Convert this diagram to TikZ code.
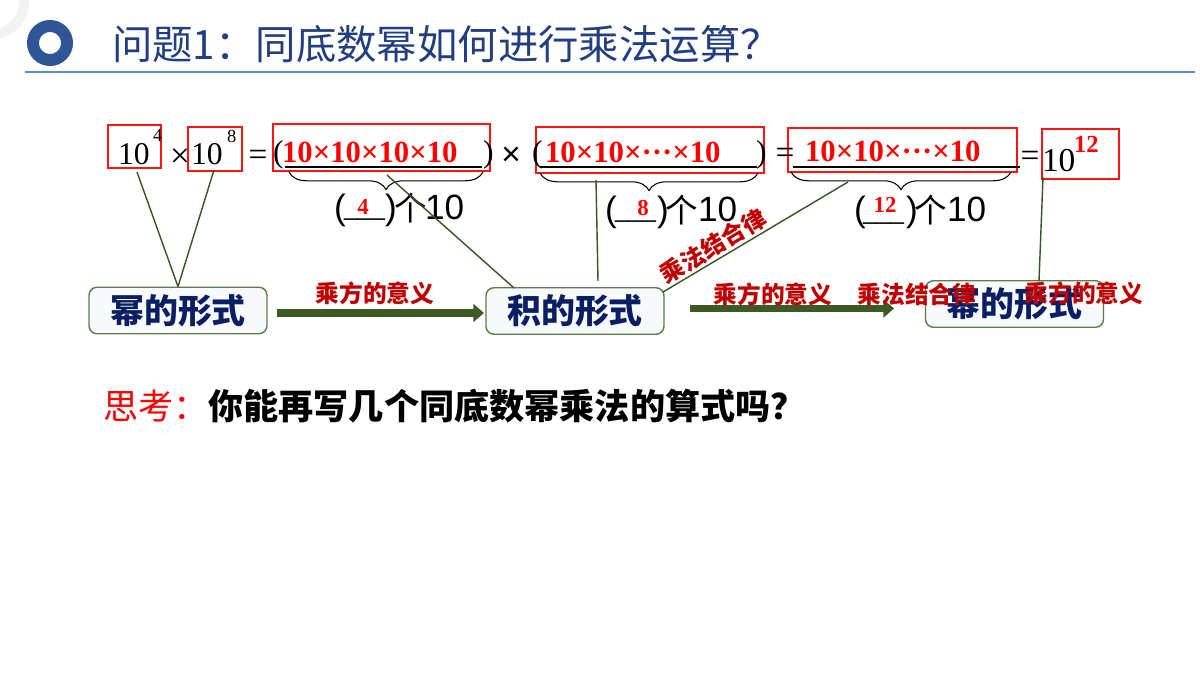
\documentclass[tikz,border=0pt]{standalone}
\usepackage{fontspec}
\setmainfont{Liberation Serif}
\setsansfont{Liberation Sans}
\newfontfamily\cjk{Noto Sans CJK SC}
\usetikzlibrary{arrows.meta,decorations.pathreplacing,fit,calc}
\definecolor{ringblue}{RGB}{47,85,151}
\definecolor{titleblue}{RGB}{33,62,130}
\definecolor{ruleblue}{RGB}{84,141,204}
\definecolor{navy}{RGB}{10,30,100}
\definecolor{boxborder}{RGB}{94,125,74}
\definecolor{boxfill}{RGB}{248,249,250}
\definecolor{arrowgreen}{RGB}{61,90,36}
\definecolor{linegreen}{RGB}{59,83,35}
\definecolor{labelred}{RGB}{192,0,0}
\definecolor{boxred}{RGB}{250,20,20}
\begin{document}
\begin{tikzpicture}[x=0.02cm,y=-0.02cm,
  txt/.style={inner sep=0pt,outer sep=0pt},
  redbox/.style={draw=boxred,line width=1.3pt,inner sep=0pt},
  stage/.style={draw=boxborder,fill=boxfill,rounded corners=0.16cm,line width=0.8pt,
    minimum width=3.56cm,minimum height=0.93cm,inner sep=0pt,
    font=\cjk\bfseries\fontsize{19.3}{20}\selectfont,text=navy},
  conn/.style={draw=linegreen,line width=0.8pt},
  bigarrow/.style={draw=arrowgreen,line width=4.5pt,-{Triangle[length=6pt,width=10pt]}},
  lab/.style={txt,font=\cjk\bfseries\fontsize{13.5}{14}\selectfont,text=labelred},
  blk/.style={txt,font=\fontsize{18}{19}\selectfont},
  rednum/.style={txt,font=\bfseries\fontsize{17.5}{18}\selectfont,text=red},
  smallred/.style={txt,font=\bfseries\fontsize{13}{14}\selectfont,text=red},
  cnt/.style={txt,font=\sffamily\fontsize{20}{21}\selectfont},
  ge/.style={txt,font=\cjk\fontsize{18.5}{19}\selectfont},
  blank/.style={txt,font=\sffamily\fontsize{14}{15}\selectfont},
  bracestyle/.style={decorate,decoration={brace,amplitude=10pt},line width=0.6pt}
]
\useasboundingbox (0,0) rectangle (1200,675);
\fill[white] (0,0) rectangle (1200,675);

% decorations of the heading
\draw[gray!10,line width=0.2cm] (-8,2) circle (32);
\draw[ringblue,line width=0.24cm] (50,43) circle (17);
\node[txt,anchor=west,font=\cjk\fontsize{23}{25}\selectfont,text=titleblue] (title) at (112,44) {问题1：同底数幂如何进行乘法运算？};
\coordinate (rulel) at (25,72);
\coordinate (ruler) at (1195,72);
\draw[ruleblue,line width=1pt] (rulel) -- (ruler);

% red boxes
\node[redbox,fit={(108,125) (161,168)}] (b1) {};
\node[redbox,fit={(188,127) (242,171)}] (b2) {};
\node[redbox,fit={(273,124) (490,171)}] (b3) {};
\node[redbox,fit={(536,127) (764,173)}] (b4) {};
\node[redbox,fit={(788,128) (1017,172)}] (b5) {};
\node[redbox,fit={(1042,129) (1119,179)}] (b6) {};

% formula
\node[blk,anchor=base west] (t1) at (118,165) {10};
\node[txt,anchor=base west,font=\fontsize{10.5}{11}\selectfont] (s1) at (153,142) {4};
\node[txt,anchor=center,font=\fontsize{20}{21}\selectfont] (m1) at (180,158) {×};
\node[blk,anchor=base west] (t2) at (191,165) {10};
\node[txt,anchor=base west,font=\fontsize{10.5}{11}\selectfont] (s2) at (227,143) {8};
\node[txt,anchor=center,font=\fontsize{19}{20}\selectfont] (e1) at (258,158) {=};
\node[blk,anchor=base west] (p1) at (273,163) {(};
\node[rednum,anchor=base west] (r1) at (282,163) {10×10×10×10};
\node[blk,anchor=base west] (q1) at (483,163) {)};
\node[txt,anchor=center,font=\sffamily\fontsize{19}{20}\selectfont] (m2) at (511,156) {×};
\node[blk,anchor=base west] (p2) at (532,163) {(};
\node[rednum,anchor=base west] (r2) at (545,163) {10×10×···×10};
\node[blk,anchor=base west] (q2) at (756,163) {)};
\node[txt,anchor=center,font=\fontsize{19}{20}\selectfont] (e2) at (785,156) {=};
\node[rednum,anchor=base west] (r3) at (805,162) {10×10×···×10};
\node[txt,anchor=center,font=\fontsize{19}{20}\selectfont] (e3) at (1030,159) {=};
\node[txt,anchor=base west,font=\fontsize{19}{20}\selectfont] (t3) at (1042,172) {10};
\node[txt,anchor=base west,font=\bfseries\fontsize{14}{15}\selectfont,text=red] (s3) at (1074,153) {12};

% underlines
\coordinate (u1a) at (285,167); \coordinate (u1b) at (482,167);
\coordinate (u2a) at (540,167); \coordinate (u2b) at (757,167);
\coordinate (u3a) at (793,167); \coordinate (u3b) at (1020,167);
\draw[line width=0.6pt] (u1a) -- (u1b);
\draw[line width=0.6pt] (u2a) -- (u2b);
\draw[line width=0.6pt] (u3a) -- (u3b);

% braces
\coordinate (br1a) at (483,172); \coordinate (br1b) at (289,172);
\coordinate (br2a) at (758,173); \coordinate (br2b) at (540,173);
\coordinate (br3a) at (1011,172); \coordinate (br3b) at (791,172);
\draw[bracestyle] (br1a) -- (br1b);
\draw[bracestyle] (br2a) -- (br2b);
\draw[bracestyle] (br3a) -- (br3b);

% counts
\node[cnt,anchor=base west] (c1p) at (334,220) {(};
\node[blank,anchor=base west] (c1u) at (344,216) {\_\_\_};
\node[smallred,anchor=center] (c1n) at (363,207) {4};
\node[cnt,anchor=base west] (c1q) at (385,220) {)};
\node[ge,anchor=base west] (c1g) at (394,221) {个};
\node[cnt,anchor=base west] (c1t) at (425,220) {10};

\node[cnt,anchor=base west] (c2p) at (605,222) {(};
\node[blank,anchor=base west] (c2u) at (615,218) {\_\_\_};
\node[smallred,anchor=center] (c2n) at (643,208) {8};
\node[cnt,anchor=base west] (c2q) at (657,222) {)};
\node[ge,anchor=base west] (c2g) at (665,223) {个};
\node[cnt,anchor=base west] (c2t) at (698,222) {10};

\node[cnt,anchor=base west] (c3p) at (854,222) {(};
\node[blank,anchor=base west] (c3u) at (863,220) {\_\_\_};
\node[smallred,anchor=center] (c3n) at (885,205) {12};
\node[cnt,anchor=base west] (c3q) at (906,222) {)};
\node[ge,anchor=base west] (c3g) at (914,223) {个};
\node[cnt,anchor=base west] (c3t) at (947,222) {10};

% stage boxes
\node[stage] (mi1) at (178,310.5) {幂的形式};
\node[stage] (ji) at (575,311) {积的形式};
\node[stage] (mi2) at (1014.5,304) {幂的形式};

% connectors
\coordinate (k1) at (137,172);
\coordinate (k2) at (214,170);
\coordinate (k3) at (387,175);
\coordinate (k3e) at (514,288);
\coordinate (k4) at (596,180);
\coordinate (k4e) at (598,281);
\coordinate (k5) at (848,182);
\coordinate (k5e) at (663,292);
\coordinate (k6) at (1043,177);
\coordinate (k6e) at (1039,281);
\draw[conn] (k1) -- (mi1.north);
\draw[conn] (k2) -- (mi1.north);
\draw[conn] (k3) -- (k3e);
\draw[conn] (k4) -- (k4e);
\draw[conn] (k5) -- (k5e);
\draw[conn] (k6) -- (k6e);

% big arrows
\coordinate (a1s) at (277,313); \coordinate (a1e) at (484,313);
\coordinate (a2s) at (690,308.5); \coordinate (a2e) at (894,308.5);
\draw[bigarrow] (a1s) -- (a1e);
\draw[bigarrow] (a2s) -- (a2e);

% labels
\node[lab] (l1) at (375,293) {乘方的意义};
\node[lab,rotate=31] (l2) at (713,246) {乘法结合律};
\node[lab] (l3) at (773,294) {乘方的意义};
\node[lab] (l4) at (917,294) {乘法结合律};
\node[lab] (l5) at (1084,293) {乘方的意义};

% question
\node[txt,anchor=west,font=\cjk\bfseries\fontsize{20}{21}\selectfont] (think) at (103,406) {\textcolor{red}{\mdseries 思考：}你能再写几个同底数幂乘法的算式吗？};
\end{tikzpicture}
\end{document}
